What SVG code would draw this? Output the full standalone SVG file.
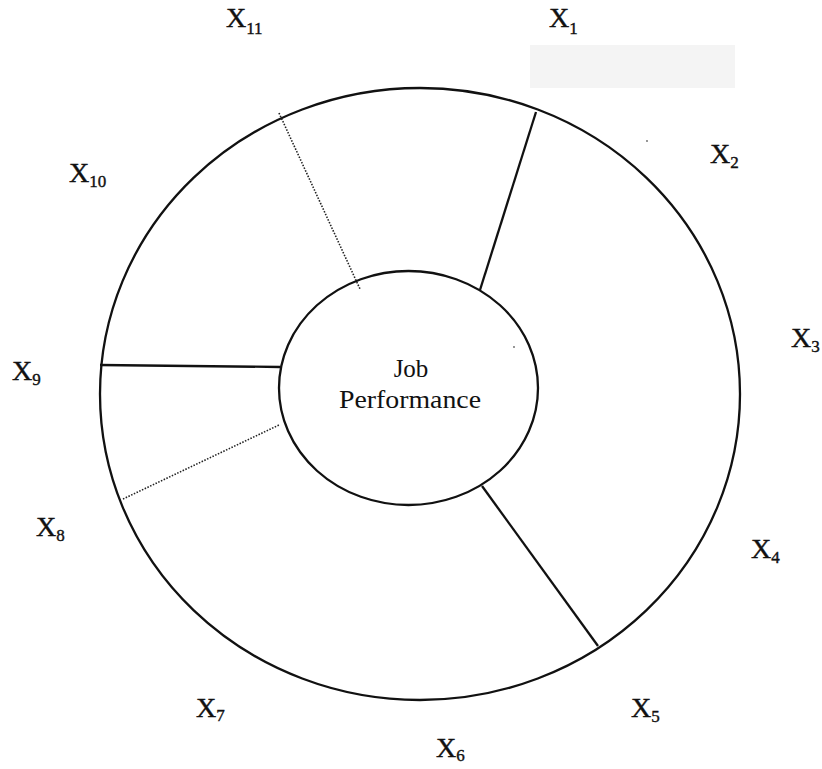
<svg xmlns="http://www.w3.org/2000/svg" width="822" height="769" viewBox="0 0 822 769">
  <style>
    .ring { fill: none; stroke: #111; stroke-width: 2.3; }
    .solid { stroke: #111; stroke-width: 2.3; fill: none; }
    .dotted { stroke: #222; stroke-width: 1.6; stroke-dasharray: 1.5 1.5; fill: none; }
    .lbl { font-family: "Liberation Serif", "Times New Roman", serif; font-size: 28px; fill: #111; stroke: #111; stroke-width: 0.4; }
    .sub { font-size: 17px; }
    .center { font-family: "Liberation Serif", "Times New Roman", serif; font-size: 25px; fill: #111; text-anchor: middle; }
    .speck { fill: #666; }
  </style>
  <rect width="822" height="769" fill="#ffffff"/>
  <rect x="530" y="45" width="205" height="43" fill="#f4f4f4"/>

  <g id="outer-ring">
    <ellipse class="ring" cx="420" cy="394" rx="320" ry="306"/>
  </g>

  <g id="job-performance">
    <ellipse class="ring" cx="408.5" cy="388" rx="129.5" ry="117"/>
    <text class="center" x="411" y="377">Job</text>
    <text class="center" x="410" y="408" textLength="142" lengthAdjust="spacingAndGlyphs">Performance</text>
  </g>

  <g id="connectors">
    <line class="solid" x1="536" y1="112" x2="480" y2="290"/>
    <line class="solid" x1="482" y1="486" x2="598" y2="646"/>
    <line class="solid" x1="100" y1="365" x2="280" y2="367"/>
    <line class="dotted" x1="279" y1="113" x2="360" y2="289"/>
    <line class="dotted" x1="123" y1="499" x2="279" y2="425"/>
  </g>

  <g id="label-x1"><text class="lbl" x="549" y="27">X<tspan class="sub" dy="7">1</tspan></text></g>
  <g id="label-x2"><text class="lbl" x="710" y="163">X<tspan class="sub" dy="5">2</tspan></text></g>
  <g id="label-x3"><text class="lbl" x="791" y="347">X<tspan class="sub" dy="5">3</tspan></text></g>
  <g id="label-x4"><text class="lbl" x="751" y="558">X<tspan class="sub" dy="5">4</tspan></text></g>
  <g id="label-x5"><text class="lbl" x="631" y="717">X<tspan class="sub" dy="5">5</tspan></text></g>
  <g id="label-x6"><text class="lbl" x="436" y="757">X<tspan class="sub" dy="4">6</tspan></text></g>
  <g id="label-x7"><text class="lbl" x="196" y="717">X<tspan class="sub" dy="4">7</tspan></text></g>
  <g id="label-x8"><text class="lbl" x="36" y="536">X<tspan class="sub" dy="5">8</tspan></text></g>
  <g id="label-x9"><text class="lbl" x="12" y="380">X<tspan class="sub" dy="5">9</tspan></text></g>
  <g id="label-x10"><text class="lbl" x="69" y="182">X<tspan class="sub" dy="5">10</tspan></text></g>
  <g id="label-x11"><text class="lbl" x="226" y="27">X<tspan class="sub" dy="7">11</tspan></text></g>

  <g id="specks">
    <circle class="speck" cx="647" cy="141" r="0.9"/>
    <circle class="speck" cx="514" cy="347" r="0.9"/>
  </g>
</svg>
